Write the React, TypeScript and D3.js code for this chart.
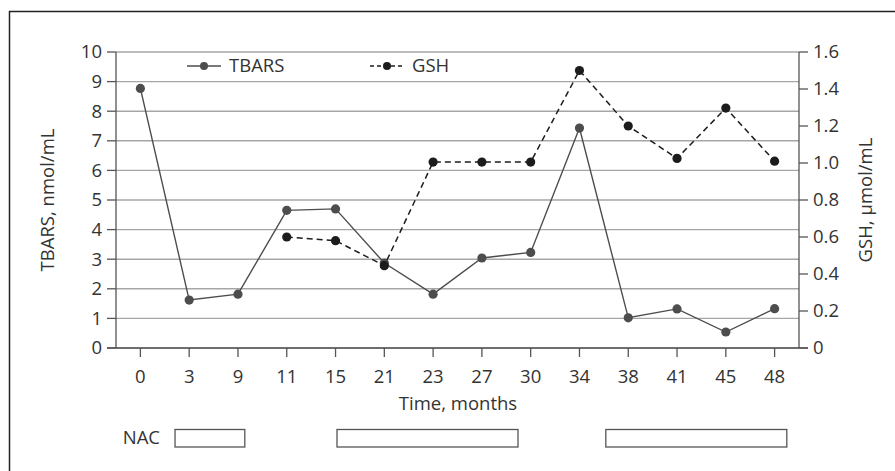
import React from "react";
import * as d3 from "d3";

const months = ["0", "3", "9", "11", "15", "21", "23", "27", "30", "34", "38", "41", "45", "48"];
const tbars = [8.77, 1.62, 1.82, 4.65, 4.7, 2.87, 1.82, 3.04, 3.23, 7.43, 1.02, 1.32, 0.54, 1.33];
const gsh: (number | null)[] = [null, null, null, 0.6, 0.58, 0.445, 1.005, 1.005, 1.005, 1.5, 1.2, 1.025, 1.297, 1.01];
const leftTicks = [0, 1, 2, 3, 4, 5, 6, 7, 8, 9, 10];
const rightTicks = [0, 0.2, 0.4, 0.6, 0.8, 1.0, 1.2, 1.4, 1.6];
// NAC treatment periods, expressed in category-band units along the time axis
const nacStart = [1.21, 4.53, 10.04];
const nacEnd = [2.64, 8.24, 13.75];

const W = 895;
const H = 471;
const L = 116;
const R = 799;
const T = 52;
const B = 348;
const FONT = "'Open Sans', 'Noto Sans', sans-serif";
const FS = 18.5;

export default function App() {
  const x = d3.scaleBand<string>().domain(months).range([L, R]).padding(0);
  const xc = (m: string) => (x(m) as number) + x.bandwidth() / 2;
  const xLin = d3.scaleLinear().domain([0, months.length]).range([L, R]);
  const yL = d3.scaleLinear().domain([0, 10]).range([B, T]);
  const yR = d3.scaleLinear().domain([0, 1.6]).range([B, T]);

  const tbarsLine = d3
    .line<number>()
    .x((_, i) => xc(months[i]))
    .y((d) => yL(d))(tbars) as string;

  const gshPts = gsh
    .map((v, i) => ({ v, m: months[i] }))
    .filter((d) => d.v !== null) as { v: number; m: string }[];
  const gshLine = d3
    .line<{ v: number; m: string }>()
    .x((d) => xc(d.m))
    .y((d) => yR(d.v))(gshPts) as string;

  const axisCol = "#555";
  const gridCol = "#a6a6a6";
  const textCol = "#333";
  const tCol = "#4d4d4d";
  const gCol = "#1c1c1c";

  return (
    <svg
      width={W}
      height={H}
      style={{ position: "absolute", left: 0, top: 0, background: "#fff" }}
      fontFamily={FONT}
    >
      <rect x={0} y={0} width={W} height={H} fill="#fff" />
      {/* outer frame (cut off at right and bottom) */}
      <path d={`M9.5,${H + 2} V11.5 H${W + 2}`} fill="none" stroke="#222" strokeWidth={1.5} />

      {/* gridlines */}
      {leftTicks.map((t) => (
        <line key={"g" + t} x1={L} x2={R} y1={yL(t)} y2={yL(t)} stroke={gridCol} strokeWidth={1.4} />
      ))}

      {/* left axis */}
      <line x1={L} x2={L} y1={T} y2={B} stroke={axisCol} strokeWidth={1.3} />
      {leftTicks.map((t) => (
        <g key={"l" + t}>
          <line x1={L - 9} x2={L} y1={yL(t)} y2={yL(t)} stroke={axisCol} strokeWidth={1.3} />
          <text x={L - 14} y={yL(t)} dy="0.35em" textAnchor="end" fontSize={FS} fill={textCol}>
            {t}
          </text>
        </g>
      ))}

      {/* right axis */}
      <line x1={R} x2={R} y1={T} y2={B} stroke={axisCol} strokeWidth={1.3} />
      {rightTicks.map((t) => (
        <g key={"r" + t}>
          <line x1={R} x2={R + 9} y1={yR(t)} y2={yR(t)} stroke={axisCol} strokeWidth={1.3} />
          <text x={R + 14} y={yR(t)} dy="0.35em" textAnchor="start" fontSize={FS} fill={textCol}>
            {t === 0 ? "0" : t.toFixed(1)}
          </text>
        </g>
      ))}

      {/* bottom axis */}
      <line x1={L - 9} x2={R + 9} y1={B} y2={B} stroke={axisCol} strokeWidth={1.3} />
      {months.map((m) => (
        <g key={"b" + m}>
          <line x1={xc(m)} x2={xc(m)} y1={B} y2={B + 9} stroke={axisCol} strokeWidth={1.3} />
          <text x={xc(m)} y={377} dy="0.35em" textAnchor="middle" fontSize={FS} fill={textCol}>
            {m}
          </text>
        </g>
      ))}

      {/* axis titles */}
      <text x={458} y={404} dy="0.35em" textAnchor="middle" fontSize={FS} fill={textCol}>
        Time, months
      </text>
      <text
        transform={`translate(48,${(T + B) / 2}) rotate(-90)`}
        dy="0.35em"
        textAnchor="middle"
        fontSize={FS}
        fill={textCol}
      >
        TBARS, nmol/mL
      </text>
      <text
        transform={`translate(866,${(T + B) / 2}) rotate(-90)`}
        dy="0.35em"
        textAnchor="middle"
        fontSize={FS}
        fill={textCol}
      >
        GSH, μmol/mL
      </text>

      {/* TBARS series */}
      <path d={tbarsLine} fill="none" stroke={tCol} strokeWidth={1.4} />
      {tbars.map((v, i) => (
        <circle key={"tc" + i} cx={xc(months[i])} cy={yL(v)} r={4.6} fill={tCol} />
      ))}

      {/* GSH series */}
      <path d={gshLine} fill="none" stroke={gCol} strokeWidth={1.5} strokeDasharray="6,4" />
      {gshPts.map((d, i) => (
        <circle key={"gc" + i} cx={xc(d.m)} cy={yR(d.v)} r={4.6} fill={gCol} />
      ))}

      {/* legend */}
      <line x1={187} x2={221} y1={66} y2={66} stroke={tCol} strokeWidth={1.4} />
      <circle cx={204} cy={66} r={4} fill={tCol} />
      <text x={229} y={66} dy="0.35em" fontSize={FS} fill={textCol}>
        TBARS
      </text>
      <line x1={370} x2={404} y1={66} y2={66} stroke={gCol} strokeWidth={1.5} strokeDasharray="4,3" />
      <circle cx={387} cy={66} r={4} fill={gCol} />
      <text x={412} y={66} dy="0.35em" fontSize={FS} fill={textCol}>
        GSH
      </text>

      {/* NAC periods */}
      <text x={160} y={438} dy="0.35em" textAnchor="end" fontSize={FS} fill={textCol}>
        NAC
      </text>
      {nacStart.map((s, i) => (
        <rect
          key={"n" + i}
          x={xLin(s)}
          y={429.5}
          width={xLin(nacEnd[i]) - xLin(s)}
          height={17.5}
          fill="#fff"
          stroke={axisCol}
          strokeWidth={1.3}
        />
      ))}
    </svg>
  );
}
